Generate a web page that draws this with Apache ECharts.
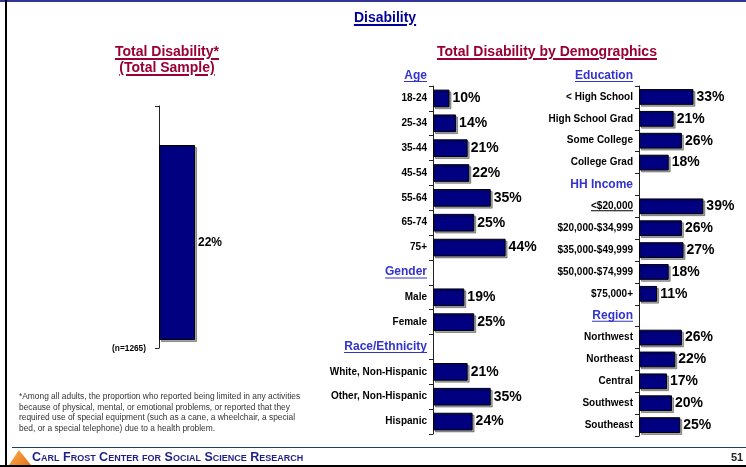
<!DOCTYPE html>
<html>
<head>
<meta charset="utf-8">
<title>Disability</title>
<script src="https://cdn.jsdelivr.net/npm/echarts@6/dist/echarts.min.js"></script>
<style>
html, body { margin: 0; padding: 0; background: #fff; }
#slide { position: relative; width: 746px; height: 467px; overflow: hidden; font-family: 'Liberation Sans', Arial, sans-serif; }
#main { position: absolute; left: 0; top: 0; width: 746px; height: 467px; }
.bar { position: absolute; }
.t { position: absolute; white-space: nowrap; font-weight: bold; transform: translate(-50%, -50%); text-align: center; }
.u { text-decoration: underline; text-decoration-thickness: 2px; text-underline-offset: 2px; }
</style>
</head>
<body>
<div id="slide">
  <div id="main"></div>
  <!-- slide frame -->
  <div class="bar" style="left:0;top:0;width:746px;height:2px;background:#333399"></div>
  <div class="bar" style="left:5px;top:0;width:2px;height:467px;background:#000"></div>
  <div class="bar" style="left:0;top:465px;width:746px;height:2px;background:#000"></div>
  <div class="bar" style="left:12px;top:447px;width:734px;height:1px;background:#1f3f60"></div>

  <div class="t u" style="left:385px;top:17px;font-size:14px;color:#000099">Disability</div>
  <div class="t u" style="left:167px;top:59px;font-size:14px;line-height:16px;color:#990033">Total Disability*<br>(Total Sample)</div>
  <div class="t u" style="left:547px;top:51px;font-size:14px;color:#990033">Total Disability by Demographics</div>

  <div style="position:absolute;left:19px;top:391px;font-size:8.4px;line-height:10.6px;color:#333;white-space:nowrap">*Among all adults, the proportion who reported being limited in any activities<br>because of physical, mental, or emotional problems, or reported that they<br>required use of special equipment (such as a cane, a wheelchair, a special<br>bed, or a special telephone) due to a health problem.</div>

  <!-- footer -->
  <div class="bar" style="left:9px;top:450px;width:22px;height:15px;background:linear-gradient(135deg,#f7b04a,#e8701a);clip-path:polygon(45% 0,100% 100%,0 100%)"></div>
  <div style="position:absolute;left:32px;top:450px;font-size:12.5px;font-weight:bold;font-variant:small-caps;color:#1f1f86;white-space:nowrap">Carl Frost Center for Social Science Research</div>
  <div style="position:absolute;left:731px;top:451px;font-size:11px;font-weight:bold;color:#222">51</div>
</div>
<script>
// 总样本
var totalLabel = '(n=1265)';
var totalValue = 22;

// 人口统计分组
var ageCats = ['18-24', '25-34', '35-44', '45-54', '55-64', '65-74', '75+'];
var ageVals = [10, 14, 21, 22, 35, 25, 44];
var genderCats = ['Male', 'Female'];
var genderVals = [19, 25];
var raceCats = ['White, Non-Hispanic', 'Other, Non-Hispanic', 'Hispanic'];
var raceVals = [21, 35, 24];

var eduCats = ['< High School', 'High School Grad', 'Some College', 'College Grad'];
var eduVals = [33, 21, 26, 18];
var incomeCats = ['<$20,000', '$20,000-$34,999', '$35,000-$49,999', '$50,000-$74,999', '$75,000+'];
var incomeVals = [39, 26, 27, 18, 11];
var regionCats = ['Northwest', 'Northeast', 'Central', 'Southwest', 'Southeast'];
var regionVals = [26, 22, 17, 20, 25];

var font = "'Liberation Sans', Arial, sans-serif";
var headColor = '#3333CC';
var navy = '#000080';

// 左列: Age / Gender / Race ，右列: Education / HH Income / Region
var leftCats = ageCats.concat(['Gender'], genderCats, ['Race/Ethnicity'], raceCats);
var leftVals = ageVals.concat([null], genderVals, [null], raceVals);
var rightCats = eduCats.concat(['HH Income'], incomeCats, ['Region'], regionCats);
var rightVals = eduVals.concat([null], incomeVals, [null], regionVals);

var headers = ['Gender', 'Race/Ethnicity', 'HH Income', 'Region'];
// 带下划线的标签及其颜色
var underlined = { 'Gender': headColor, 'Race/Ethnicity': headColor, 'Region': headColor, '<$20,000': '#000' };

// 用 canvas 量文字宽度，画下划线用
var cv = document.createElement('canvas').getContext('2d');
function textW(s, size) {
    cv.font = 'bold ' + size + 'px ' + font;
    return Math.round(cv.measureText(s).width);
}

function makeRich(cats) {
    var rich = {
        h: { color: headColor, fontSize: 12, fontWeight: 'bold', fontFamily: font, lineHeight: 11 },
        n: { color: '#000', fontSize: 10, fontWeight: 'bold', fontFamily: font, lineHeight: 9 }
    };
    cats.forEach(function (c, i) {
        if (underlined[c]) {
            var size = headers.indexOf(c) >= 0 ? 12 : 10;
            rich['u' + i] = { width: textW(c, size), height: 1, lineHeight: 1, fontSize: 1, backgroundColor: underlined[c] };
        }
    });
    return rich;
}
function labelFmt(v, i) {
    var s = headers.indexOf(v) >= 0 ? '{h|' + v + '}' : '{n|' + v + '}';
    if (underlined[v]) s += '\n{u' + i + '| }';
    return s;
}
function headName(txt) {
    return {
        name: '{h|' + txt + '}\n{ul| }',
        nameLocation: 'start',
        nameGap: 10,
        nameTextStyle: {
            align: 'right', verticalAlign: 'middle', padding: [0, 6, 0, 0],
            rich: {
                h: { color: headColor, fontSize: 12, fontWeight: 'bold', fontFamily: font, lineHeight: 11 },
                ul: { width: textW(txt, 12), height: 1, lineHeight: 1, fontSize: 1, backgroundColor: headColor }
            }
        }
    };
}

var axisLine = { show: true, lineStyle: { color: '#222', width: 1 } };
var barStyle = {
    color: navy, borderColor: '#000', borderWidth: 1,
    shadowColor: 'rgba(0,0,0,0.35)', shadowOffsetX: 2, shadowOffsetY: 2, shadowBlur: 0
};
var valueLabel = {
    show: true, position: 'right', distance: 3, formatter: '{c}%',
    fontSize: 14, fontWeight: 'bold', color: '#000', fontFamily: font
};

function catAxis(idx, cats, head) {
    var ax = {
        gridIndex: idx, type: 'category', inverse: true, data: cats,
        axisLine: axisLine,
        axisTick: { show: true, length: 4, lineStyle: { color: '#222' } },
        axisLabel: { interval: 0, margin: 6, formatter: labelFmt, rich: makeRich(cats) }
    };
    var n = headName(head);
    for (var k in n) ax[k] = n[k];
    return ax;
}

var myChart = echarts.init(document.getElementById('main'));
var option = {
    animation: false,
    textStyle: { fontFamily: font },
    grid: [
        { left: 159, top: 106, width: 36, height: 242 },
        { left: 433, top: 86, width: 99, height: 348 },
        { left: 639, top: 86, width: 99, height: 350 }
    ],
    xAxis: [
        {
            gridIndex: 0, type: 'category', data: [totalLabel],
            axisLine: { show: false }, axisTick: { show: false },
            axisLabel: {
                interval: 0, align: 'right', verticalAlign: 'middle', margin: 1,
                padding: [0, 31, 0, 0], fontSize: 8.3, fontWeight: 'bold', color: '#000'
            }
        },
        { gridIndex: 1, type: 'value', min: 0, max: 60, show: false },
        { gridIndex: 2, type: 'value', min: 0, max: 60, show: false }
    ],
    yAxis: [
        {
            gridIndex: 0, type: 'value', min: -0.9, max: 26.4,
            axisLine: axisLine,
            axisTick: { show: true, length: 4, customValues: [-0.9, 26.4], lineStyle: { color: '#222' } },
            axisLabel: { show: false }, splitLine: { show: false }
        },
        catAxis(1, leftCats, 'Age'),
        catAxis(2, rightCats, 'Education')
    ],
    series: [
        {
            type: 'bar', xAxisIndex: 0, yAxisIndex: 0, data: [totalValue], barWidth: '100%',
            itemStyle: barStyle,
            label: { show: true, position: 'right', distance: 3, formatter: '{c}%', fontSize: 12, fontWeight: 'bold', color: '#000' }
        },
        {
            type: 'bar', xAxisIndex: 1, yAxisIndex: 1, data: leftVals, barWidth: '71%',
            itemStyle: barStyle, label: valueLabel
        },
        {
            type: 'bar', xAxisIndex: 2, yAxisIndex: 2, data: rightVals, barWidth: '72%',
            itemStyle: barStyle, label: valueLabel
        }
    ]
};
myChart.setOption(option);
</script>
</body>
</html>
